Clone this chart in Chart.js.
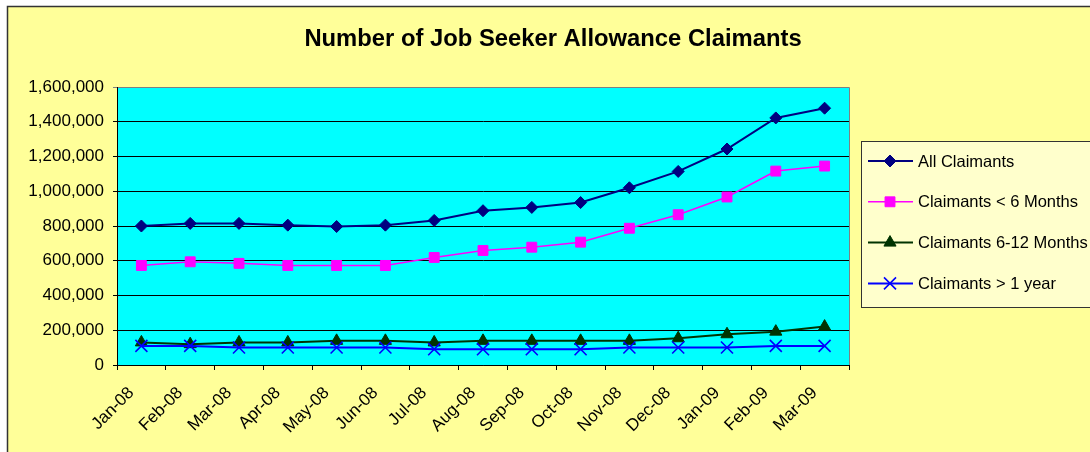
<!DOCTYPE html>
<html>
<head>
<meta charset="utf-8">
<script src="https://cdn.jsdelivr.net/npm/chart.js@4.4.1/dist/chart.umd.min.js"></script>
<style>
  html, body { margin: 0; padding: 0; background: #fff; }
  #wrap { width: 1090px; height: 452px; }
</style>
</head>
<body>
<div id="wrap"><canvas id="chart" width="1090" height="452"></canvas></div>
<script>
const chartTitle = 'Number of Job Seeker Allowance Claimants'
const months = ['Jan-08', 'Feb-08', 'Mar-08', 'Apr-08', 'May-08', 'Jun-08', 'Jul-08', 'Aug-08',
  'Sep-08', 'Oct-08', 'Nov-08', 'Dec-08', 'Jan-09', 'Feb-09', 'Mar-09']
const allClaimants = [800000, 815000, 815000, 805000, 797000, 805000, 832000, 888000,
  907000, 935000, 1020000, 1114000, 1243000, 1422000, 1478000]
const under6Months = [573000, 594000, 585000, 573000, 573000, 573000, 619000, 659000,
  678000, 707000, 787000, 865000, 967000, 1116000, 1145000]
const months6to12 = [130000, 120000, 130000, 130000, 139000, 139000, 130000, 139000,
  139000, 139000, 139000, 154000, 177000, 192000, 221000]
const overOneYear = [110000, 110000, 101000, 101000, 101000, 101000, 91000, 91000,
  91000, 91000, 101000, 101000, 101000, 110000, 110000]
const yTicks = [0, 200000, 400000, 600000, 800000, 1000000, 1200000, 1400000, 1600000]

const FONT = "'Liberation Sans', Arial, sans-serif"

const series = (label, data, color, style, radius, width, order) => ({
  label, data, order,
  borderColor: color,
  backgroundColor: color,
  borderWidth: width,
  pointStyle: style,
  pointRadius: radius,
  pointHoverRadius: radius,
  pointBorderWidth: style === 'crossRot' ? 1.6 : 1,
  tension: 0,
  fill: false
})

// backgrounds, plot frame, title and legend drawn around the chart
const frame = {
  id: 'frame',
  beforeDraw(chart) {
    const { ctx, chartArea: a } = chart
    ctx.save()
    ctx.fillStyle = '#fff'
    ctx.fillRect(0, 0, chart.width, chart.height)
    ctx.fillStyle = '#FFFF99'
    ctx.fillRect(8, 7, 1100, 460)
    ctx.strokeStyle = '#333'
    ctx.lineWidth = 1.5
    ctx.strokeRect(7.5, 6.5, 1100, 460)
    ctx.fillStyle = '#00FFFF'
    ctx.fillRect(a.left, a.top, a.right - a.left, a.bottom - a.top)
    ctx.strokeStyle = '#808080'
    ctx.lineWidth = 1
    ctx.beginPath()
    ctx.moveTo(a.left, a.top + 0.5)
    ctx.lineTo(a.right + 0.5, a.top + 0.5)
    ctx.lineTo(a.right + 0.5, a.bottom)
    ctx.stroke()
    ctx.restore()
  },
  afterDraw(chart) {
    const { ctx } = chart
    ctx.save()
    ctx.fillStyle = '#000'
    ctx.font = 'bold 23.8px ' + FONT
    ctx.textAlign = 'center'
    ctx.textBaseline = 'middle'
    ctx.fillText(chartTitle, 553, 39)

    ctx.fillStyle = '#FFFFCC'
    ctx.fillRect(861, 141, 260, 166)
    ctx.strokeStyle = '#333'
    ctx.lineWidth = 1
    ctx.strokeRect(861.5, 141.5, 260, 166)

    ctx.font = '16.5px ' + FONT
    ctx.textAlign = 'left'
    chart.data.datasets.forEach((ds, i) => {
      const y = 161 + i * 40.8
      ctx.strokeStyle = ds.borderColor
      ctx.fillStyle = ds.backgroundColor
      ctx.lineWidth = ds.borderWidth
      ctx.beginPath()
      ctx.moveTo(868, y)
      ctx.lineTo(913, y)
      ctx.stroke()
      ctx.lineWidth = ds.pointBorderWidth
      Chart.helpers.drawPoint(ctx, {
        pointStyle: ds.pointStyle, radius: ds.pointRadius, rotation: 0, borderWidth: ds.pointBorderWidth
      }, 890, y)
      ctx.fillStyle = '#000'
      ctx.fillText(ds.label, 918, y + 1)
    })
    ctx.restore()
  }
}

new Chart(document.getElementById('chart'), {
  type: 'line',
  data: {
    labels: months,
    datasets: [
      series('All Claimants', allClaimants, '#000080', 'rectRot', 6, 2, 3),
      series('Claimants < 6 Months', under6Months, '#FF00FF', 'rect', 7, 1.5, 2),
      series('Claimants 6-12 Months', months6to12, '#003300', 'triangle', 7, 2, 1),
      series('Claimants > 1 year', overOneYear, '#0000FF', 'crossRot', 8.5, 2, 0)
    ]
  },
  options: {
    responsive: false,
    animation: false,
    devicePixelRatio: 1,
    layout: { padding: { top: 87, right: 241, left: 0, bottom: 0 } },
    plugins: {
      legend: { display: false },
      title: { display: false },
      tooltip: { enabled: false }
    },
    scales: {
      x: {
        offset: true,
        afterFit: s => { s.height = 87 },
        grid: { offset: true, drawOnChartArea: false, color: '#000', tickLength: 5 },
        border: { color: '#000', width: 1 },
        ticks: {
          autoSkip: false, minRotation: 45, maxRotation: 45, padding: 13, labelOffset: -10,
          color: '#000', font: { family: FONT, size: 17 }
        }
      },
      y: {
        min: 0,
        max: 1600000,
        afterFit: s => { s.width = 117 },
        afterBuildTicks: s => { s.ticks = yTicks.map(v => ({ value: v })) },
        grid: {
          color: c => c.tick && c.tick.value === 1600000 ? '#808080' : '#000',
          tickLength: 4
        },
        border: { color: '#000', width: 1 },
        ticks: {
          padding: 9, color: '#000', font: { family: FONT, size: 17 },
          callback: v => v.toLocaleString('en-US')
        }
      }
    }
  },
  plugins: [frame]
})
</script>
</body>
</html>
